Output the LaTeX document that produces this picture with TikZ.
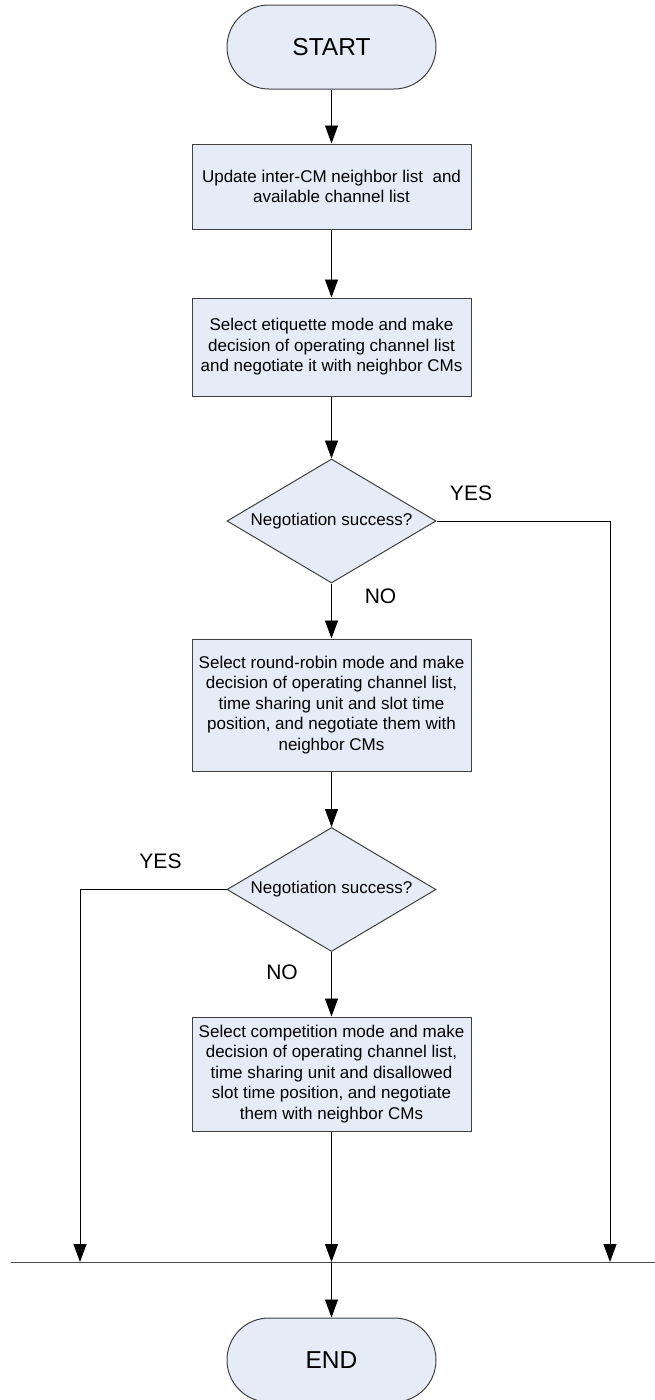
\documentclass[tikz,border=0pt]{standalone}
\usepackage{fontspec}
\setmainfont{Liberation Sans}
\usetikzlibrary{shapes.geometric,arrows.meta}
\definecolor{boxfill}{RGB}{230,236,247}
\definecolor{boxline}{RGB}{64,64,64}

\begin{document}
\begin{tikzpicture}[x=1pt,y=-1pt,
        term/.style={draw=boxline, fill=boxfill, line width=1pt, rounded corners=41.9pt, minimum width=209pt, minimum height=84pt, font=\fontsize{24.5}{29}\selectfont},
        proc/.style={draw=boxline, fill=boxfill, line width=1pt, minimum width=279pt, align=center, inner sep=0pt, font=\fontsize{17}{20.5}\selectfont},
        dec/.style={diamond, draw=boxline, fill=boxfill, line width=1pt, aspect=1.69, inner sep=0pt, minimum width=209pt, minimum height=124pt, font=\fontsize{17}{20.5}\selectfont},
        lbl/.style={font=\fontsize{21}{25}\selectfont},
        arr/.style={-{Triangle[length=18pt,width=13pt]}, line width=0.9pt}]
                \useasboundingbox (0,0) rectangle (655,1400);

                \node[term] (start) at (331.5,47) {START};
                \node[proc, minimum height=85pt] (upd) at (331.5,186.5) {Update inter-CM neighbor list\ \ and\\available channel list};
                \node[proc, minimum height=98pt] (eti) at (331.5,347) {Select etiquette mode and make\\decision of operating channel list\\and negotiate it with neighbor CMs};
                \node[dec] (neg1) at (331.5,521) {Negotiation success?};
                \node[proc, minimum height=132pt] (rr) at (331.5,705) {Select round-robin mode and make\\decision of operating channel list,\\time sharing unit and slot time\\position, and negotiate them with\\neighbor CMs};
                \node[dec] (neg2) at (331.5,889.5) {Negotiation success?};
                \node[proc, minimum height=114pt] (comp) at (331.5,1074) {Select competition mode and make\\decision of operating channel list,\\time sharing unit and disallowed\\slot time position, and negotiate\\them with neighbor CMs};
                \node[term] (stop) at (331.5,1360) {END};

                \node[lbl] (yes1) at (471,493) {YES};
                \node[lbl] (no1) at (380.5,596) {NO};
                \node[lbl] (yes2) at (160.5,861) {YES};
                \node[lbl] (no2) at (282,972) {NO};

                \coordinate (busl) at (10.7,1262);
                \coordinate (busr) at (655,1262);
                \coordinate (j1) at (80,1262);
                \coordinate (j2) at (331.5,1262);
                \coordinate (j3) at (610,1262);

                \draw[arr] (start) edge (upd);
                \draw[arr] (upd) edge (eti);
                \draw[arr] (eti) edge (neg1);
                \draw[arr] (neg1) edge (rr);
                \draw[arr] (rr) edge (neg2);
                \draw[arr] (neg2) edge (comp);
                \draw[arr] (comp.south) -- (j2);

                \draw[arr] (neg1.east) -| (j3);
                \draw[arr] (neg2.west) -| (j1);

                \draw[line width=1pt, black!70] (busl) -- (busr);
                \draw[arr] (j2) -- (stop.north);
            \end{tikzpicture}
\end{document}
